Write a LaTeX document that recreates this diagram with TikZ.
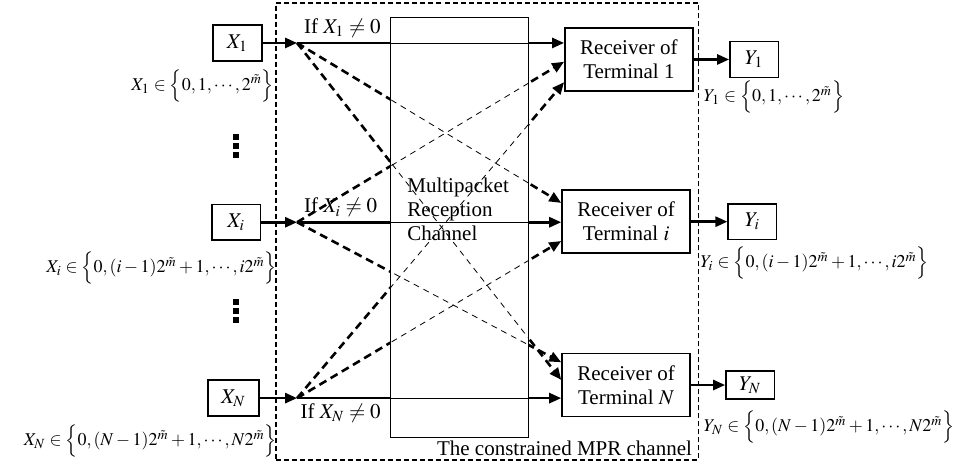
\documentclass[tikz,border=0pt]{standalone}
\usepackage{mathptmx}
\usepackage[no-math]{fontspec}
\setmainfont{Liberation Serif}
\usetikzlibrary{arrows.meta, positioning, calc}
\tikzset{
  inbox/.style     = {rectangle, draw, line width=0.8pt, minimum width=0.86cm, minimum height=0.63cm, inner sep=1pt},
  recv/.style      = {rectangle, draw, line width=0.8pt, minimum width=2.25cm, minimum height=1.11cm, align=center, inner sep=1pt},
  chan/.style      = {rectangle, draw, line width=0.6pt, minimum width=2.41cm, minimum height=7.37cm},
  mprbox/.style    = {rectangle, draw, line width=0.8pt, dash pattern=on 2.5pt off 1.5pt, minimum width=7.42cm, minimum height=8.03cm},
  flow/.style      = {-{Triangle[length=6pt,width=5pt]}, line width=1.3pt},
  flowx/.style     = {-{Triangle[length=6pt,width=5pt]}, line width=1.3pt, dash pattern=on 4pt off 2.5pt},
  thinflow/.style  = {line width=0.4pt},
  thinflowx/.style = {line width=0.4pt, dash pattern=on 3pt off 2.5pt},
  setlab/.style    = {font=\small, inner sep=0pt},
  txt/.style       = {font=\rmfamily\fontsize{10.5}{12}\selectfont},
}
\begin{document}
\begin{tikzpicture}[scale=1.0, transform shape, every node/.style={txt}]
\useasboundingbox (0,0) rectangle (16.92,8.225);

% outer dashed frame and channel
\node[mprbox] (mpr) at (8.56,4.155) {};
\node[chan] (ch) at (8.075,4.225) {};
\node[anchor=south east, inner sep=0pt] (mprlab) at ([xshift=-0.12cm,yshift=0.09cm]mpr.south east) {The constrained MPR channel};

% input boxes
\node[inbox] (x1) at (4.17,7.47) {$X_1$};
\node[inbox] (xi) at (4.15,4.32) {$X_i$};
\node[inbox, minimum width=0.9cm] (xn) at (4.10,1.23) {$X_N$};

\node[setlab, anchor=east] (x1set) at (4.82,6.72) {$X_1\in\Bigl\{0,1,\cdots,2^{\tilde{m}}\Bigr\}$};
\node[setlab, anchor=east] (xiset) at (4.87,3.51) {$X_i\in\Bigl\{0,(i-1)2^{\tilde{m}}+1,\cdots,i2^{\tilde{m}}\Bigr\}$};
\node[setlab, anchor=east] (xnset) at (4.87,0.47) {$X_N\in\Bigl\{0,(N-1)2^{\tilde{m}}+1,\cdots,N2^{\tilde{m}}\Bigr\}$};

% vertical dots
\foreach \yy in {5.45,5.61,5.77} \fill (4.10,\yy) rectangle ++(0.1,0.1);
\foreach \yy in {2.55,2.71,2.87} \fill (4.10,\yy) rectangle ++(0.1,0.1);

% junctions
\coordinate (j1) at (5.22,7.47);
\coordinate (ji) at (5.22,4.32);
\coordinate (jn) at (5.22,1.23);

\node[anchor=south west, inner sep=1pt] (if1) at (5.30,7.52) {If $X_1\neq 0$};
\node[anchor=south west, inner sep=1pt] (ifi) at (5.30,4.37) {If $X_i\neq 0$};
\node[anchor=north west, inner sep=1pt] (ifn) at (5.24,1.18) {If $X_N\neq 0$};

% receivers
\node[recv] (r1) at (11.05,7.18) {Receiver of\\Terminal 1};
\node[recv] (ri) at (11.00,4.33) {Receiver of\\Terminal $i$};
\node[recv] (rn) at (11.00,1.46) {Receiver of\\Terminal $N$};

\coordinate (r1a) at (r1.west |- j1);
\coordinate (r1b) at ($(r1.west)+(0,-0.04)$);
\coordinate (r1c) at ($(r1.west)+(0,-0.40)$);
\coordinate (ria) at ($(ri.west)+(0,0.33)$);
\coordinate (rib) at (ri.west |- ji);
\coordinate (ric) at ($(ri.west)+(0,-0.34)$);
\coordinate (rna) at ($(rn.west)+(0,0.40)$);
\coordinate (rnb) at ($(rn.west)+(0,0.09)$);
\coordinate (rnc) at (rn.west |- jn);

% outputs
\node[inbox, minimum width=0.85cm] (y1) at (13.25,7.18) {$Y_1$};
\node[inbox, minimum width=0.85cm] (yi) at (13.22,4.33) {$Y_i$};
\node[inbox, minimum width=0.85cm, minimum height=0.5cm] (yn) at (13.18,1.46) {$Y_N$};

\node[setlab, anchor=west] (y1set) at (12.36,6.52) {$Y_1\in\Bigl\{0,1,\cdots,2^{\tilde{m}}\Bigr\}$};
\node[setlab, anchor=west] (yiset) at (12.30,3.60) {$Y_i\in\Bigl\{0,(i-1)2^{\tilde{m}}+1,\cdots,i2^{\tilde{m}}\Bigr\}$};
\node[setlab, anchor=west] (ynset) at (12.36,0.72) {$Y_N\in\Bigl\{0,(N-1)2^{\tilde{m}}+1,\cdots,N2^{\tilde{m}}\Bigr\}$};

% inputs into the channel
\draw[flow] (x1) -- (j1);
\draw[flow] (xi) -- (ji);
\draw[flow] (xn) -- (jn);

% paths through the channel
\draw[flow]  (j1) -- (r1a);
\draw[flowx] (j1) -- (ria);
\draw[flowx] (j1) -- (rnb);
\draw[flowx] (ji) -- (r1b);
\draw[flow]  (ji) -- (rib);
\draw[flowx] (ji) -- (rna);
\draw[flowx] (jn) -- (r1c);
\draw[flowx] (jn) -- (ric);
\draw[flow]  (jn) -- (rnc);

% inside the channel the paths are thin
\fill[white] ([shift={(0.3pt,-0.3pt)}]ch.north west) rectangle ([shift={(-0.3pt,0.3pt)}]ch.south east);
\begin{scope}
  \clip (ch.north west) rectangle (ch.south east);
  \draw[thinflow]  (j1) -- (r1a);
  \draw[thinflowx] (j1) -- (ria);
  \draw[thinflowx] (j1) -- (rnb);
  \draw[thinflowx] (ji) -- (r1b);
  \draw[thinflow]  (ji) -- (rib);
  \draw[thinflowx] (ji) -- (rna);
  \draw[thinflowx] (jn) -- (r1c);
  \draw[thinflowx] (jn) -- (ric);
  \draw[thinflow]  (jn) -- (rnc);
\end{scope}
\node[anchor=west, align=left, inner sep=0pt] (mprtext) at (7.15,4.54) {Multipacket\\Reception\\Channel};

% outputs of the receivers
\draw[flow] (r1) -- (y1);
\draw[flow] (ri) -- (yi);
\draw[flow] (rn) -- (yn);

\end{tikzpicture}
\end{document}
